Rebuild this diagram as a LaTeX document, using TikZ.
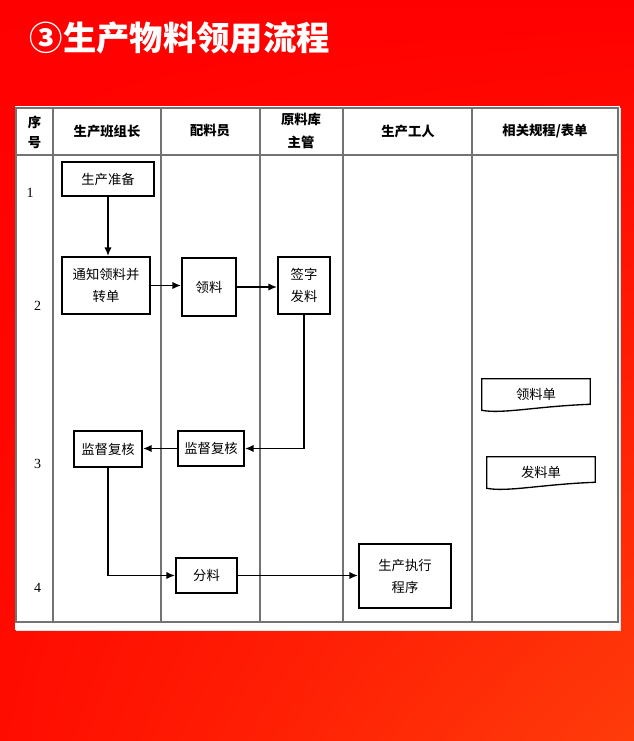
\documentclass[tikz,border=0pt]{standalone}
\usepackage{fontspec}
\setmainfont{Liberation Serif}
\newfontfamily\cjk{Noto Sans CJK SC}
\usepackage{tikz}
\usetikzlibrary{positioning,shadings,arrows.meta}
\definecolor{bgred}{RGB}{255,0,0}
\definecolor{bgredlow}{RGB}{255,12,0}
\definecolor{bgorange}{RGB}{255,60,10}

% wavy document outline round a named node
\newcommand{\docedge}[1]{%
  \draw[line width=1pt] (#1.north west) -- (#1.north east) -- ([yshift=4.5pt]#1.south east)
    .. controls ([xshift=-40pt,yshift=3pt]#1.south east) and ([xshift=15pt,yshift=-3pt]#1.south west) .. (#1.south west) -- cycle;}

\begin{document}
\begin{tikzpicture}[x=0.75pt,y=-0.75pt,
    lane/.style={draw=black!55, line width=0.9pt},
    head/.style={font=\cjk\bfseries\fontsize{10}{15}\selectfont, align=center},
    rowno/.style={font=\fontsize{10.5}{12}\selectfont},
    box/.style 2 args={draw, line width=1.4pt, font=\cjk\fontsize{10}{16.5}\selectfont, align=center,
        inner sep=0pt, minimum width=#1, minimum height=#2},
    doc/.style={font=\cjk\fontsize{10}{12}\selectfont, inner sep=0pt, minimum width=81pt, minimum height=23.25pt},
    flow/.style={-{Latex[length=6.5pt,width=5.5pt]}, line width=1.2pt}]
    \useasboundingbox (0,0) rectangle (634,741);
    % background
    \shade[upper left=bgred, upper right=bgred, lower left=bgredlow, lower right=bgorange] (0,0) rectangle (634,741);
    \node[anchor=west, text=white, font=\cjk\bfseries\fontsize{25}{30}\selectfont] (title) at (25,38) {③生产物料领用流程};
    % table
    \fill[black!10] (16,108) rectangle (621,631);
    \fill[white] (15,106) rectangle (620,629.5);
    \draw[lane] (16,108) rectangle (618,622);
    \draw[lane] (16,155) -- (618,155);
    \foreach \x in {53,161,260,343,472}
        \draw[lane] (\x,108) -- (\x,622);
    % header
    \node[head] (hno) at (34.5,132) {序\\号};
    \node[head] (hlead) at (107,131) {生产班组长};
    \node[head] (hmat) at (210,131) {配料员};
    \node[head] (hstore) at (301,131) {原料库\\[2pt]主管};
    \node[head] (hwork) at (408,131) {生产工人};
    \node[head] (hdoc) at (545,131) {相关规程/表单};
    % row numbers
    \node[rowno] (r1) at (30,193) {1};
    \node[rowno] (r2) at (37.5,306) {2};
    \node[rowno] (r3) at (37.5,464) {3};
    \node[rowno] (r4) at (37.5,588) {4};
    % steps
    \node[box={69pt}{25.5pt}] (prep) at (108,179) {生产准备};
    \node[box={66pt}{42.75pt}] (notify) at (106,285.5) {通知领料并\\转单};
    \node[box={40.5pt}{43.5pt}] (fetch) at (209,287) {领料};
    \node[box={39pt}{42.75pt}] (sign) at (304,285.5) {签字\\发料};
    \node[box={51pt}{27pt}] (checkA) at (108,449) {监督复核};
    \node[box={49.5pt}{26.25pt}] (checkB) at (211,448.5) {监督复核};
    \node[box={45.75pt}{26.25pt}] (split) at (206.5,575.5) {分料};
    \node[box={69pt}{48pt}] (exec) at (405,576) {生产执行\\程序};
    % forms
    \node[doc] (formA) at (536,394.5) {领料单};
    \node[doc] (formB) at (541,472.5) {发料单};
    \docedge{formA}
    \docedge{formB}
    % flow
    \draw[flow] (prep.south) -- (prep.south |- notify.north);
    \draw[flow] (notify.east) -- (notify.east -| fetch.west);
    \draw[flow] (fetch.east) -- (fetch.east -| sign.west);
    \draw[flow] (sign.south) |- (checkB.east);
    \draw[flow] (checkB.west) -- (checkB.west -| checkA.east);
    \draw[flow] (checkA.south) |- (split.west);
    \draw[flow] (split.east) -- (split.east -| exec.west);
\end{tikzpicture}
\end{document}
